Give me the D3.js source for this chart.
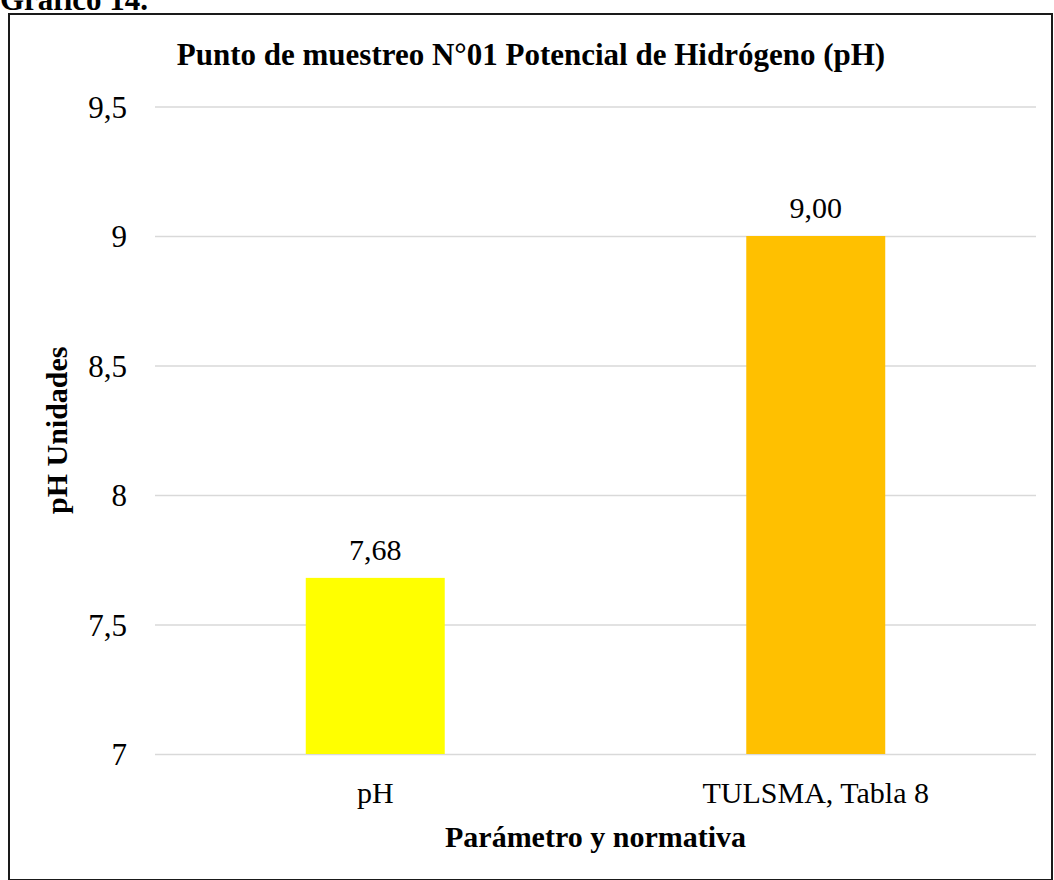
<!DOCTYPE html>
<html>

<head>
  <meta charset='utf-8'>
  <title>Gráfico 14</title>
  <script src="https://cdnjs.cloudflare.com/ajax/libs/d3/7.8.5/d3.min.js"></script>
  <style>
    body { margin: 0; background: #fff; }
    svg text { font-family: "Liberation Serif", "Times New Roman", serif; fill: #000; }
  </style>
</head>

<body>

  <svg width="1054" height="880" id="mySVG"></svg>
  <script>

    // data
    const categories = ['pH', 'TULSMA, Tabla 8'];
    const values = [7.68, 9.00];
    const yTicks = [7, 7.5, 8, 8.5, 9, 9.5];

    const barColors = ['#FFFF00', '#FFC000'];

    const plot = { left: 155, right: 1036, top: 106.5, bottom: 754 };
    const serif = '"Liberation Serif", "Times New Roman", serif';

    const locale = d3.formatLocale({ decimal: ',', thousands: '.', grouping: [3], currency: ['', ''] });
    const tickFmt = locale.format('~g');
    const labelFmt = locale.format('.2f');

    const svg = d3.select('#mySVG');

    // caption above the chart box (cut off at the top, as in the source)
    svg.append('text')
      .attr('x', 0)
      .attr('y', 10)
      .style('font-size', '31px')
      .style('font-weight', 'bold')
      .text('Gráfico 14.');

    // chart border
    svg.append('rect')
      .attr('x', 9)
      .attr('y', 14)
      .attr('width', 1043)
      .attr('height', 866)
      .attr('fill', 'none')
      .attr('stroke', '#1a1a1a')
      .attr('stroke-width', 2);

    const x = d3.scaleBand()
      .domain(categories)
      .range([plot.left, plot.right])
      .paddingInner(0.6845)
      .paddingOuter(0.6845 / 2);

    const y = d3.scaleLinear()
      .domain([7, 9.5])
      .range([plot.bottom, plot.top]);

    // y axis with gridlines
    const yAxis = svg.append('g')
      .attr('transform', `translate(${plot.left},0)`)
      .call(d3.axisLeft(y)
        .tickValues(yTicks)
        .tickFormat(tickFmt)
        .tickSize(-(plot.right - plot.left))
        .tickPadding(28))
      .attr('font-family', serif);
    yAxis.select('.domain').remove();
    yAxis.selectAll('.tick line')
      .attr('stroke', '#d9d9d9')
      .attr('stroke-width', 1.5);
    yAxis.selectAll('.tick text')
      .style('font-size', '31px')
      .attr('dy', '0.34em');

    // bars
    svg.selectAll('rect.bar')
      .data(values)
      .join('rect')
      .attr('class', 'bar')
      .attr('x', (d, i) => x(categories[i]))
      .attr('width', x.bandwidth())
      .attr('y', d => y(d))
      .attr('height', d => y(7) - y(d))
      .attr('fill', (d, i) => barColors[i]);

    // data labels
    svg.selectAll('text.val')
      .data(values)
      .join('text')
      .attr('class', 'val')
      .attr('x', (d, i) => x(categories[i]) + x.bandwidth() / 2)
      .attr('y', d => y(d) - 18)
      .attr('text-anchor', 'middle')
      .style('font-size', '30px')
      .text(d => labelFmt(d));

    // category axis
    const xAxis = svg.append('g')
      .attr('transform', `translate(0,${plot.bottom})`)
      .call(d3.axisBottom(x).tickSize(0).tickPadding(0))
      .attr('font-family', serif);
    xAxis.select('.domain').remove();
    xAxis.selectAll('.tick text')
      .style('font-size', '30px')
      .attr('y', 49)
      .attr('dy', 0);

    // titles
    svg.append('text')
      .attr('x', 531)
      .attr('y', 65)
      .attr('text-anchor', 'middle')
      .style('font-size', '31px')
      .style('font-weight', 'bold')
      .text('Punto de muestreo N°01 Potencial de Hidrógeno (pH)');

    svg.append('text')
      .attr('x', (plot.left + plot.right) / 2)
      .attr('y', 847)
      .attr('text-anchor', 'middle')
      .style('font-size', '30px')
      .style('font-weight', 'bold')
      .text('Parámetro y normativa');

    svg.append('text')
      .attr('transform', `translate(67,${(plot.top + plot.bottom) / 2}) rotate(-90)`)
      .attr('text-anchor', 'middle')
      .style('font-size', '30px')
      .style('font-weight', 'bold')
      .text('pH Unidades');

  </script>

</body>

</html>
